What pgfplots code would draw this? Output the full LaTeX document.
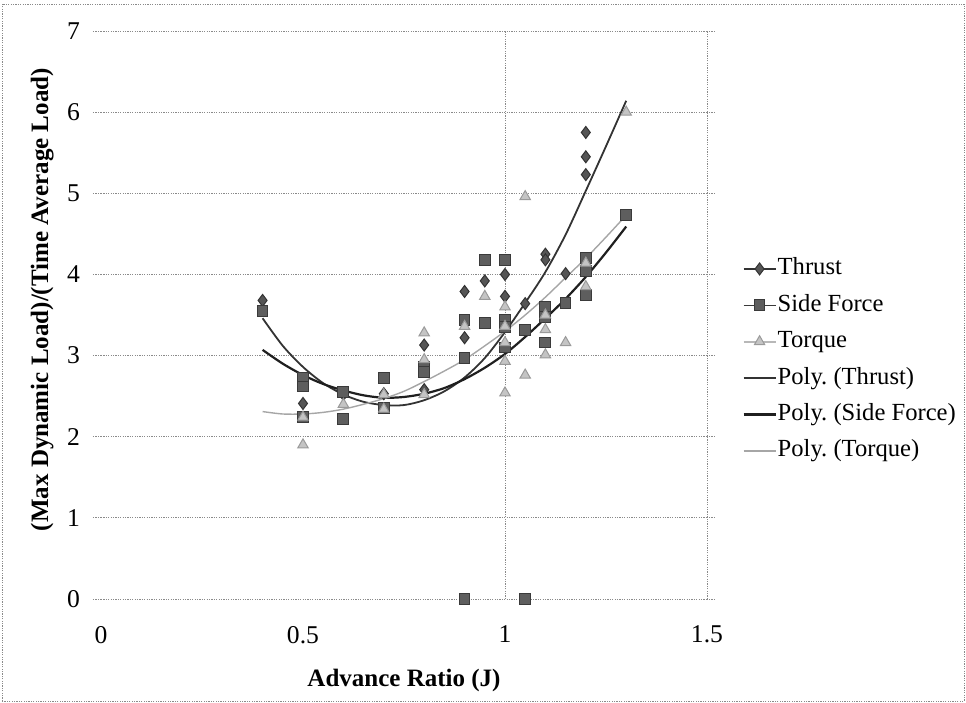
\documentclass[border=0pt]{standalone}
\usepackage{pgfplots}
\pgfplotsset{compat=1.18}
\usepackage{fontspec}
\setmainfont{Liberation Serif}
\frenchspacing
\definecolor{thrfill}{HTML}{555555}
\definecolor{thrdraw}{HTML}{333333}
\definecolor{sidefill}{HTML}{5E5E5E}
\definecolor{sidedraw}{HTML}{3A3A3A}
\definecolor{torfill}{HTML}{C4C4C4}
\definecolor{tordraw}{HTML}{9A9A9A}
\definecolor{gridc}{HTML}{8A8A8A}
\pgfplotsset{
  linleg/.style={legend image code/.code={\draw[##1] (0pt,0pt) -- (16pt,0pt);}},
  thrleg/.style={legend image code/.code={\draw[thrdraw, line width=0.8pt] (0pt,0pt) -- (16pt,0pt); \draw[##1] plot coordinates {(8pt,0pt)};}},
  sideleg/.style={legend image code/.code={\draw[sidedraw, line width=0.8pt] (0pt,0pt) -- (16pt,0pt); \draw[##1] plot coordinates {(8pt,0pt)};}},
  torleg/.style={legend image code/.code={\draw[tordraw!70, line width=0.8pt] (0pt,0pt) -- (16pt,0pt); \draw[##1] plot coordinates {(8pt,0pt)};}},
}
\begin{document}
\begin{tikzpicture}[x=1pt,y=1pt,font=\fontsize{12.5}{15}\selectfont]
\path[use as bounding box] (0,0) rectangle (483,351.5);
\draw[gridc, line width=0.4pt, dash pattern=on 0.6pt off 0.6pt] (1,1) rectangle (482,349.5);
\begin{axis}[
  at={(50.5pt,52pt)}, anchor=south west,
  scale only axis, width=303pt, height=284pt,
  xmin=0, xmax=1.5, ymin=0, ymax=7,
  xtick={0,0.5,1,1.5}, xticklabels={0,0.5,1,1.5},
  ytick={0,1,2,3,4,5,6,7},
  axis line style={draw=none},
  ymajorgrids=true,
  major grid style={gridc, line width=0.4pt, dash pattern=on 0.6pt off 0.6pt},
  tick align=outside, major tick length=4pt,
  ytick style={gridc, line width=0.4pt, dash pattern=on 0.6pt off 0.6pt},
  xtick style={draw=none},
  /pgf/number format/assume math mode=true,
  ticklabel style={font=\fontsize{12.8}{15}\selectfont},
  yticklabel style={xshift=-3pt},
  xticklabel style={yshift=-6pt},
  xlabel={\bfseries Advance Ratio (J)},
  ylabel={\bfseries (Max Dynamic Load)/(Time Average Load)},
  xlabel style={at={(axis description cs:0.5,-0.1426)}, anchor=center, font=\fontsize{12.5}{15}\selectfont},
  ylabel style={at={(axis description cs:-0.097,0.527)}, anchor=center, font=\fontsize{12.5}{15}\selectfont},
  clip=false,
  legend style={at={(axis description cs:1.048,0.610)}, anchor=north west, draw=none, fill=none,
    row sep=6.2pt, font=\fontsize{12.3}{15}\selectfont,
    nodes={inner xsep=0.5pt, inner ysep=0pt, text height=9pt, text depth=3pt}},
  legend cell align=left,
]
\draw[gridc, line width=0.4pt, dash pattern=on 0.6pt off 0.6pt] (axis cs:1,0) -- (axis cs:1,7);
\draw[gridc, line width=0.4pt, dash pattern=on 0.6pt off 0.6pt] (axis cs:1.5,0) -- (axis cs:1.5,7);

\addplot[only marks, mark=diamond*, mark size=3pt, mark options={fill=thrfill, draw=thrdraw, line width=0.5pt}, thrleg]
coordinates {
(0.4,3.68) (0.5,2.64) (0.5,2.41) (0.6,2.52) (0.7,2.53) (0.8,3.13) (0.8,2.58)
(0.9,3.79) (0.9,3.22) (0.95,3.92) (1.0,4.00) (1.0,3.73) (1.05,3.64)
(1.1,4.25) (1.1,4.18) (1.15,4.01) (1.2,5.75) (1.2,5.45) (1.2,5.23)
};
\addlegendentry{Thrust}

\addplot[only marks, mark=square*, mark size=2.7pt, mark options={fill=sidefill, draw=sidedraw, line width=0.5pt}, sideleg]
coordinates {
(0.4,3.55) (0.5,2.72) (0.5,2.62) (0.5,2.24) (0.6,2.55) (0.6,2.22) (0.7,2.72) (0.7,2.35)
(0.8,2.86) (0.8,2.80) (0.9,3.44) (0.9,2.97) (0.9,0) (0.95,4.18) (0.95,3.40)
(1.0,4.18) (1.0,3.44) (1.0,3.35) (1.0,3.10) (1.05,3.32) (1.05,0)
(1.1,3.60) (1.1,3.48) (1.1,3.16) (1.15,3.65) (1.2,4.20) (1.2,4.04) (1.2,3.75) (1.3,4.73)
};
\addlegendentry{Side Force}

\addplot[only marks, mark=triangle*, mark size=3pt, mark options={fill=torfill, draw=tordraw, line width=0.5pt}, torleg]
coordinates {
(0.5,2.24) (0.5,1.90) (0.6,2.40) (0.7,2.52) (0.7,2.34) (0.8,3.28) (0.8,2.95) (0.8,2.52)
(0.9,3.36) (0.95,3.73) (1.0,3.60) (1.0,3.36) (1.0,3.16) (1.0,2.93) (1.0,2.54)
(1.05,4.96) (1.05,2.76) (1.1,3.50) (1.1,3.32) (1.1,3.01) (1.15,3.16)
(1.2,4.14) (1.2,3.85) (1.3,6.00)
};
\addlegendentry{Torque}

\addplot[smooth, no marks, color=black!80, line width=0.9pt, linleg]
coordinates {
(0.40,3.46) (0.45,3.12) (0.50,2.86) (0.55,2.66) (0.60,2.52) (0.65,2.43) (0.70,2.39)
(0.75,2.39) (0.80,2.45) (0.85,2.56) (0.90,2.73) (0.95,2.97) (1.00,3.29) (1.05,3.65)
(1.10,4.03) (1.15,4.49) (1.20,5.03) (1.25,5.58) (1.30,6.14)
};
\addlegendentry{Poly. (Thrust)}

\addplot[smooth, no marks, color=black!88, line width=1.1pt, linleg]
coordinates {
(0.40,3.07) (0.45,2.90) (0.50,2.76) (0.55,2.65) (0.60,2.57) (0.65,2.51) (0.70,2.48)
(0.75,2.49) (0.80,2.53) (0.85,2.60) (0.90,2.71) (0.95,2.85) (1.00,3.02) (1.05,3.23)
(1.10,3.46) (1.15,3.70) (1.20,3.97) (1.25,4.27) (1.30,4.59)
};
\addlegendentry{Poly. (Side Force)}

\addplot[smooth, no marks, color=black!35, line width=0.7pt, linleg]
coordinates {
(0.40,2.31) (0.45,2.28) (0.50,2.28) (0.55,2.30) (0.60,2.34) (0.65,2.40) (0.70,2.47)
(0.75,2.56) (0.80,2.68) (0.85,2.81) (0.90,2.95) (0.95,3.12) (1.00,3.30) (1.05,3.50)
(1.10,3.72) (1.15,3.96) (1.20,4.20) (1.25,4.46) (1.30,4.73)
};
\addlegendentry{Poly. (Torque)}
\end{axis}
\end{tikzpicture}
\end{document}
